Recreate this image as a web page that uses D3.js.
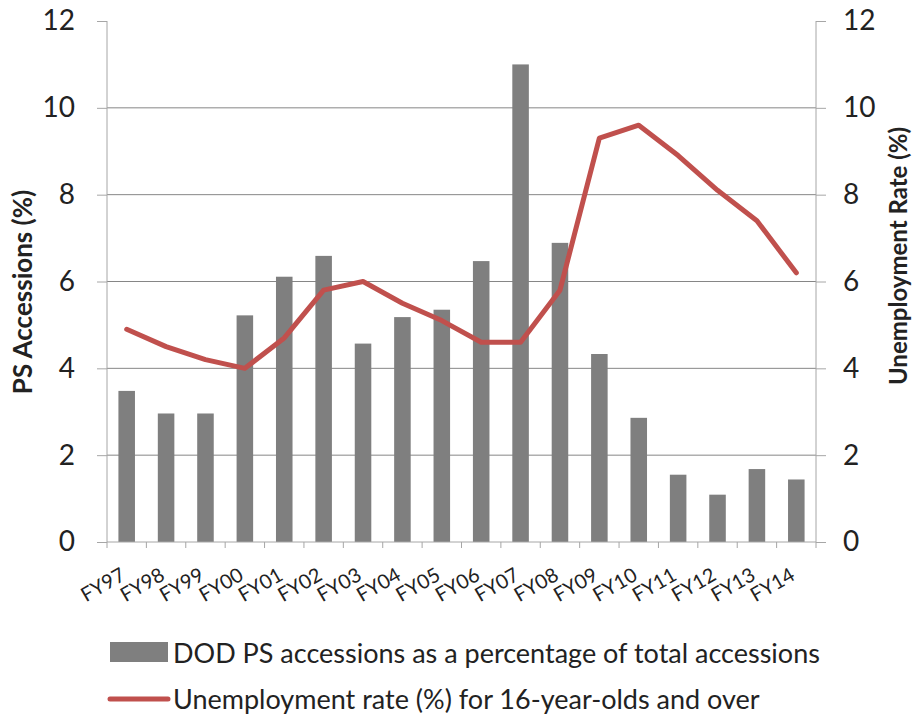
<!DOCTYPE html>
<html>
<head>
    <meta charset="utf-8"/>
    <title>PS Accessions vs Unemployment</title>
    <script src="https://d3js.org/d3.v7.min.js"></script>
</head>
<style>
    body { margin: 0; background: white; }
    text { font-family: Lato, "Open Sans", sans-serif; fill: #222; }
</style>

<body>

<svg id="chart" width="917" height="721"></svg>

<script type="text/javascript">

    var years = ["FY97", "FY98", "FY99", "FY00", "FY01", "FY02", "FY03", "FY04", "FY05",
                 "FY06", "FY07", "FY08", "FY09", "FY10", "FY11", "FY12", "FY13", "FY14"];
    var psAccessions = [3.48, 2.96, 2.96, 5.22, 6.11, 6.59, 4.57, 5.18, 5.35,
                        6.47, 11.0, 6.89, 4.33, 2.86, 1.55, 1.09, 1.68, 1.44];
    var unemployment = [4.9, 4.5, 4.2, 4.0, 4.7, 5.8, 6.0, 5.5, 5.1,
                        4.6, 4.6, 5.8, 9.3, 9.6, 8.9, 8.1, 7.4, 6.2];
    var yTicks = [0, 2, 4, 6, 8, 10, 12];

    var plotLeft = 107, plotRight = 816, plotTop = 21, plotBottom = 542;

    var svg = d3.select("#chart");

    var x = d3.scaleBand().domain(years).range([plotLeft, plotRight]).paddingInner(0.58).paddingOuter(0.29);
    var xCat = d3.scaleBand().domain(years).range([plotLeft, plotRight]);
    var yLeft = d3.scaleLinear().domain([0, 12]).range([plotBottom, plotTop]);
    var yRight = d3.scaleLinear().domain([0, 12]).range([plotBottom, plotTop]);

    // gridlines
    svg.append("g")
        .selectAll("line")
        .data(yTicks.filter(function (d) { return d > 0 && d < 12; }))
        .join("line")
        .attr("x1", plotLeft).attr("x2", plotRight)
        .attr("y1", function (d) { return yLeft(d); })
        .attr("y2", function (d) { return yLeft(d); })
        .attr("stroke", "#868686")
        .attr("stroke-width", 1);

    // bars
    svg.append("g")
        .selectAll("rect")
        .data(psAccessions)
        .join("rect")
        .attr("x", function (d, i) { return x(years[i]); })
        .attr("width", x.bandwidth())
        .attr("y", function (d) { return yLeft(d); })
        .attr("height", function (d) { return yLeft(0) - yLeft(d); })
        .attr("fill", "#7f7f7f");

    // line
    var line = d3.line()
        .x(function (d, i) { return xCat(years[i]) + xCat.bandwidth() / 2; })
        .y(function (d) { return yRight(d); });

    svg.append("path")
        .datum(unemployment)
        .attr("d", line)
        .attr("fill", "none")
        .attr("stroke", "#c0504d")
        .attr("stroke-width", 5)
        .attr("stroke-linejoin", "round")
        .attr("stroke-linecap", "round");

    // y axes
    var leftAxis = svg.append("g")
        .attr("transform", "translate(" + plotLeft + ",0)")
        .call(d3.axisLeft(yLeft).tickValues(yTicks).tickSize(10).tickPadding(22));
    var rightAxis = svg.append("g")
        .attr("transform", "translate(" + plotRight + ",0)")
        .call(d3.axisRight(yRight).tickValues(yTicks).tickSize(10).tickPadding(17));
    [leftAxis, rightAxis].forEach(function (g) {
        g.select(".domain").attr("stroke", "#a6a6a6").attr("d", "M0," + plotTop + "V" + plotBottom);
        g.selectAll(".tick line").attr("stroke", "#a6a6a6");
        g.selectAll(".tick text").attr("font-size", 28).style("font-family", "Lato, sans-serif").attr("fill", "#222");
    });

    // bottom axis: ticks at category boundaries
    var bottomAxis = svg.append("g");
    bottomAxis.append("line")
        .attr("x1", plotLeft).attr("x2", plotRight)
        .attr("y1", plotBottom).attr("y2", plotBottom)
        .attr("stroke", "#a6a6a6");
    bottomAxis.selectAll(".btick")
        .data(years.concat(["end"]))
        .join("line")
        .attr("class", "btick")
        .attr("x1", function (d, i) { return plotLeft + i * xCat.step(); })
        .attr("x2", function (d, i) { return plotLeft + i * xCat.step(); })
        .attr("y1", plotBottom).attr("y2", plotBottom + 6)
        .attr("stroke", "#a6a6a6");
    bottomAxis.selectAll(".xlabel")
        .data(years)
        .join("text")
        .attr("class", "xlabel")
        .attr("text-anchor", "end")
        .attr("font-size", 20)
        .attr("transform", function (d) {
            var cx = xCat(d) + xCat.bandwidth() / 2;
            return "translate(" + cx + "," + (plotBottom + 37) + ") rotate(-30)";
        })
        .text(function (d) { return d; });

    // axis titles
    svg.append("text")
        .attr("transform", "translate(32,292) rotate(-90)")
        .attr("text-anchor", "middle")
        .attr("font-size", 26)
        .attr("font-weight", "bold")
        .attr("fill", "#000")
        .text("PS Accessions (%)");
    svg.append("text")
        .attr("transform", "translate(907,256) rotate(-90)")
        .attr("text-anchor", "middle")
        .attr("font-size", 24)
        .attr("font-weight", "bold")
        .attr("fill", "#000")
        .text("Unemployment Rate (%)");

    // legend
    var legend = svg.append("g");
    legend.append("rect")
        .attr("x", 110).attr("y", 642).attr("width", 58).attr("height", 20)
        .attr("fill", "#7f7f7f");
    legend.append("text")
        .attr("x", 173).attr("y", 663)
        .attr("font-size", 27)
        .text("DOD PS accessions as a percentage of total accessions");
    legend.append("line")
        .attr("x1", 110).attr("x2", 168).attr("y1", 699).attr("y2", 699)
        .attr("stroke", "#c0504d").attr("stroke-width", 5).attr("stroke-linecap", "round");
    legend.append("text")
        .attr("x", 173).attr("y", 709)
        .attr("font-size", 27)
        .text("Unemployment rate (%) for 16-year-olds and over");
</script>
</body>
</html>
